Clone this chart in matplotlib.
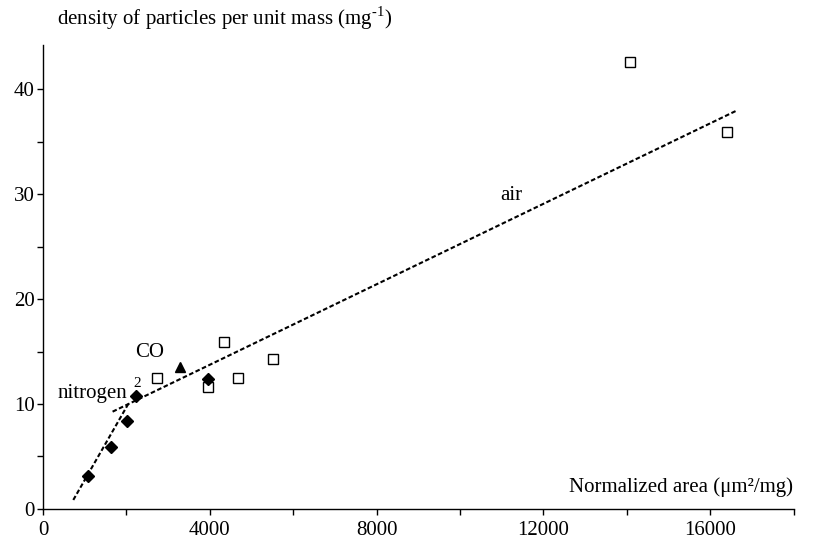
import numpy as np
import matplotlib
matplotlib.use("Agg")
import matplotlib.pyplot as plt
from matplotlib.ticker import MultipleLocator

plt.rcParams['font.family'] = ['Liberation Serif', 'DejaVu Serif']
plt.rcParams['mathtext.fontset'] = 'custom'
plt.rcParams['mathtext.rm'] = 'Liberation Serif'

# nitrogen (filled diamonds)
n2_x = [1086, 1620, 2020, 2220, 3960]
n2_y = [3.17, 5.9, 8.35, 10.8, 12.4]
# CO2 (filled triangle)
co_x = [3297]
co_y = [13.55]
# air (open squares)
air_x = [2723, 4343, 3960, 4686, 5517, 14076, 16392]
air_y = [12.5, 15.9, 11.65, 12.5, 14.25, 42.6, 35.9]

# fitted lines (end points)
n2_fit_x = [727, 2044]
n2_fit_y = [0.86, 10.0]
air_fit_x = [1669, 16655]
air_fit_y = [9.27, 38.0]

fig = plt.figure(figsize=(8.2, 5.39), dpi=100)
ax = fig.add_axes([0.0524, 0.0557, 0.9156, 0.8608])

ax.plot(n2_fit_x, n2_fit_y, color='black', lw=1.5, ls=(0, (2.2, 1.2)))
ax.plot(air_fit_x, air_fit_y, color='black', lw=1.5, ls=(0, (2.2, 1.2)))

ax.plot(air_x, air_y, ls='none', marker='s', ms=7.5, mfc='white', mec='black', mew=1.0)
ax.plot(n2_x, n2_y, ls='none', marker='D', ms=6.3, color='black')
ax.plot(co_x, co_y, ls='none', marker='^', ms=7.5, color='black')

ax.set_xlim(0, 18000)
ax.set_ylim(0, 44.2)
ax.set_xticks([0, 4000, 8000, 12000, 16000], labels=['0', '4000', '8000', '12000', '16000'])
ax.xaxis.set_minor_locator(MultipleLocator(2000))
ax.yaxis.set_major_locator(MultipleLocator(10))
ax.yaxis.set_minor_locator(MultipleLocator(5))
ax.tick_params(which='both', direction='out', labelsize=15, width=1, color='black')
ax.tick_params(which='major', length=4)
ax.tick_params(which='minor', length=4)
ax.tick_params(axis='x', pad=5)
ax.tick_params(axis='y', pad=2)
for s in ['top', 'right']:
    ax.spines[s].set_visible(False)
for s in ['left', 'bottom']:
    ax.spines[s].set_linewidth(1)

ax.text(11230, 29.9, 'air', fontsize=15, ha='center', va='center')
ax.text(2560, 14.9, 'CO', fontsize=15, ha='center', va='center')
ax.text(2030, 11.0, 'nitrogen', fontsize=15, ha='right', va='center')
ax.text(2260, 12.0, '2', fontsize=11, ha='center', va='center')

fig.text(0.967, 0.096, 'Normalized area (\u03bcm\u00b2/mg)', fontsize=15, ha='right', va='center')
fig.text(0.069, 0.966, 'density of particles per unit mass (mg$^{\\text{-1}}$)', fontsize=15,
         ha='left', va='center')

fig.savefig('out.png', dpi=100)
